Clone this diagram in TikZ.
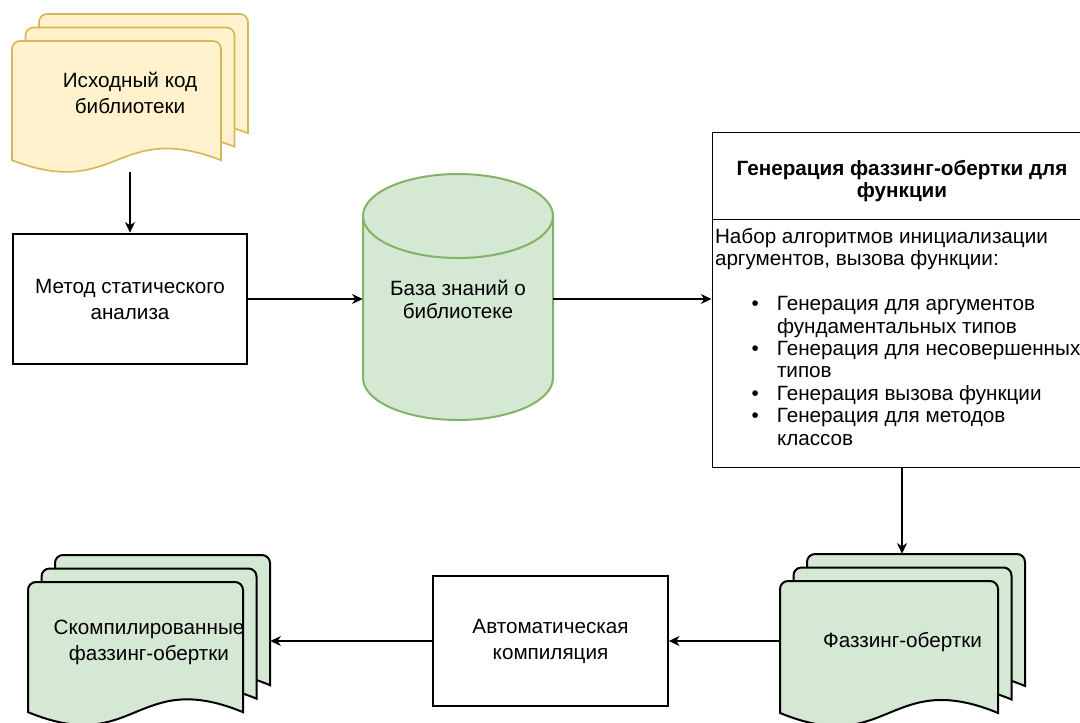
\documentclass[tikz,border=0pt]{standalone}
\usepackage{fontspec}
\setmainfont{Liberation Sans}
\usepackage{tikz}
\usetikzlibrary{arrows.meta}
\usetikzlibrary{positioning}

\definecolor{yellowfill}{HTML}{FFF2CC}
\definecolor{yellowline}{HTML}{D6B656}
\definecolor{greenfill}{HTML}{D5E8D4}
\definecolor{greenline}{HTML}{82B366}

% one sheet of a document stack: style, x, y, width, height
\newcommand{\docsheet}[5]{%
  \pgfmathsetmacro{\dkx}{#2}
  \pgfmathsetmacro{\dky}{#3}
  \pgfmathsetmacro{\dkr}{#2+#4}
  \pgfmathsetmacro{\dkb}{#3+0.91*(#5)}
  \pgfmathsetmacro{\dkm}{#2+0.5*(#4)}
  \pgfmathsetmacro{\dku}{\dkb-0.31*(#5)}
  \pgfmathsetmacro{\dkd}{\dkb+0.31*(#5)}
  \draw[#1] (\dkx,\dkb) [rounded corners=6pt] -- (\dkx,\dky) -- (\dkr,\dky) [sharp corners] -- (\dkr,\dkb)
    .. controls (\dkm,\dku) and (\dkm,\dkd) .. (\dkx,\dkb) -- cycle;
}
% stack of three sheets: style, name, x, y, width, height, text
\newcommand{\docstack}[7]{%
  \docsheet{#1}{#3+27}{#4}{#5-27}{#6-27}
  \docsheet{#1}{#3+13.5}{#4+13.5}{#5-27}{#6-27}
  \docsheet{#1}{#3}{#4+27}{#5-27}{#6-27}
  \node[doctext, minimum width=#5*0.75pt, minimum height=#6*0.75pt] (#2) at ({#3+#5/2},{#4+#6/2}) {#7};
}
\newcommand{\genitem}[1]{\hspace*{27.5pt}\makebox[19pt][l]{\textbullet}#1}
\newcommand{\genmore}[1]{\hspace*{46.5pt}#1}

\tikzset{
  basefont/.style={font=\fontsize{15.5}{19.5}\selectfont},
  doctext/.style={basefont, align=center, inner sep=0pt, text depth=-3pt},
  yellowdoc/.style={fill=yellowfill, draw=yellowline, line width=1.2pt},
  greendoc/.style={fill=greenfill, draw=black, line width=1.5pt},
  process/.style={draw, line width=1.5pt, basefont, align=center, minimum width=175.5pt, minimum height=98pt},
  flow/.style={-{Stealth[length=8pt,width=7.5pt,inset=2.5pt]}, line width=0.8pt},
}

\begin{document}
\begin{tikzpicture}[x=0.75pt, y=-0.75pt]
\useasboundingbox (0,0) rectangle (1080,722);

% source code
\docstack{yellowdoc}{src}{12}{14}{236}{158}{Исходный код\\библиотеки}

\node[process] (sa) at (130,299) {Метод статического\\анализа};

% knowledge base
\path[fill=greenfill, draw=greenline, line width=1.5pt] (363,216) -- (363,378)
  arc[start angle=180, end angle=0, x radius=95, y radius=42] -- (553,216)
  arc[start angle=0, end angle=-180, x radius=95, y radius=42] -- cycle;
\draw[greenline, line width=1.5pt] (363,216) arc[start angle=180, end angle=0, x radius=95, y radius=42];
\node[basefont, align=center, minimum width=142.5pt, minimum height=188pt,
  font=\fontsize{15.5}{17.25}\selectfont] (kb) at (458,299) {База знаний о\\библиотеке};

% wrapper generation
\node[draw, line width=0.75pt, minimum width=285pt, minimum height=251.25pt] (gen) at (902,299.5) {};
\node[anchor=north, minimum width=285pt, minimum height=65.25pt, align=center,
  font=\bfseries\fontsize{15.5}{16.5}\selectfont] (genhead) at (gen.north) {};
\node[align=center, font=\bfseries\fontsize{15.5}{16.5}\selectfont] (genname) at ([yshift=-4pt]genhead.center)
  {Генерация фаззинг-обертки для\\функции};
\draw[line width=0.75pt] (genhead.south west) -- (genhead.south east);
\node[anchor=north west, inner sep=0pt, align=left, font=\fontsize{15.5}{16.8}\selectfont]
  (genlist) at ([shift={(3,9)}]genhead.south west)
  {Набор алгоритмов инициализации\\аргументов, вызова функции:\\[16.8pt]
   \genitem{Генерация для аргументов}\\\genmore{фундаментальных типов}\\
   \genitem{Генерация для несовершенных}\\\genmore{типов}\\
   \genitem{Генерация вызова функции}\\
   \genitem{Генерация для методов}\\\genmore{классов}};

% results
\docstack{greendoc}{wraps}{780}{554}{245}{172}{Фаззинг-обертки}
\node[process, minimum width=176pt, minimum height=97.5pt] (comp) at (550.5,641) {Автоматическая\\компиляция};
\docstack{greendoc}{built}{28}{555}{242}{170}{Скомпилированные\\фаззинг-обертки}

\draw[flow] (src.south) -- (sa.north);
\draw[flow] (sa.east) -- (sa.east -| kb.west);
\draw[flow] (kb.east) -- (kb.east -| gen.west);
\draw[flow] (gen.south) -- (gen.south |- wraps.north);
\draw[flow] (comp.east -| wraps.west) -- (comp.east);
\draw[flow] (comp.west) -- (comp.west -| built.east);
\end{tikzpicture}
\end{document}
